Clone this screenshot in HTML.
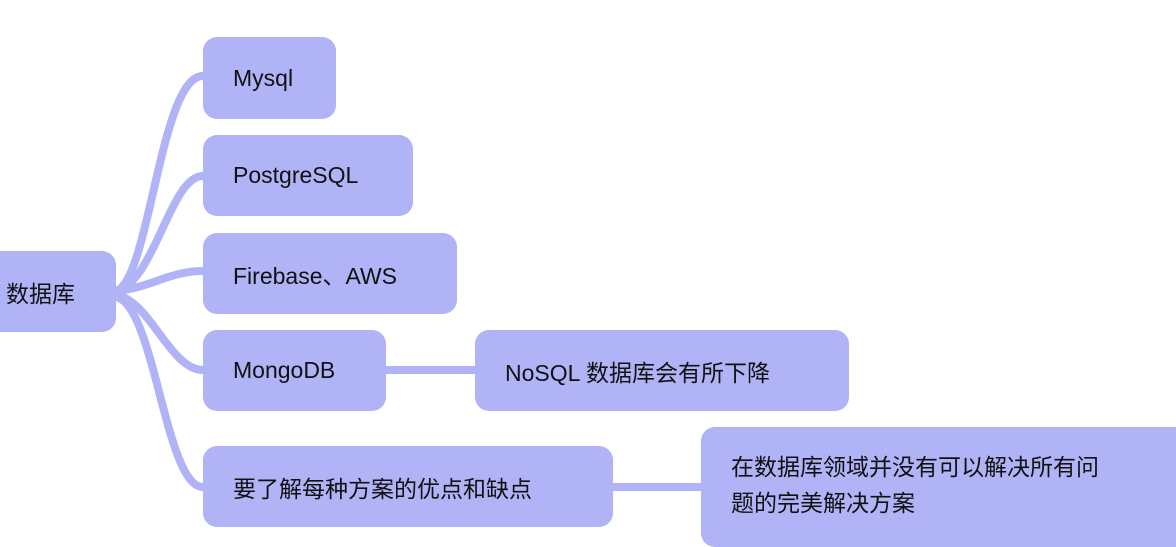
<!DOCTYPE html>
<html><head><meta charset="utf-8"><style>
html,body{margin:0;padding:0;background:#fff;}
body{width:1176px;height:534px;overflow:hidden;position:relative;font-family:"Liberation Sans","Noto Sans CJK SC",sans-serif;}
.n{position:absolute;background:#b1b3f7;border-radius:14px;color:#111;font-size:23px;box-sizing:border-box;display:flex;align-items:center;}
svg{position:absolute;left:0;top:0;}
</style></head><body>
<svg width="1176" height="534">
<g fill="none" stroke="#b1b3f7" stroke-width="8" stroke-linecap="round">
<path d="M116 291 C150 280,160 76,203 76"/>
<path d="M116 291 C155 282,170 176,203 176"/>
<path d="M116 291 C150 288,170 271,203 271"/>
<path d="M116 295 C150 300,170 370,203 370"/>
<path d="M116 297 C155 305,165 487,203 487"/>
<path d="M386 370 L475 370"/>
<path d="M613 487 L701 487"/>
</g>
</svg>
<div class="n" style="left:-14px;top:251px;width:130px;height:81px;padding-left:20px;">数据库</div>
<div class="n" style="left:203px;top:37px;width:133px;height:82px;padding-left:30px;">Mysql</div>
<div class="n" style="left:203px;top:135px;width:210px;height:81px;padding-left:30px;">PostgreSQL</div>
<div class="n" style="left:203px;top:233px;width:254px;height:81px;padding-left:30px;">Firebase、AWS</div>
<div class="n" style="left:203px;top:330px;width:183px;height:81px;padding-left:30px;">MongoDB</div>
<div class="n" style="left:475px;top:330px;width:374px;height:81px;padding-left:30px;">NoSQL 数据库会有所下降</div>
<div class="n" style="left:203px;top:446px;width:410px;height:81px;padding-left:30px;">要了解每种方案的优点和缺点</div>
<div class="n" style="left:701px;top:427px;width:490px;height:120px;padding-left:30px;padding-top:6px;line-height:36px;align-items:flex-start;padding-top:22px;">在数据库领域并没有可以解决所有问<br>题的完美解决方案</div>
</body></html>
